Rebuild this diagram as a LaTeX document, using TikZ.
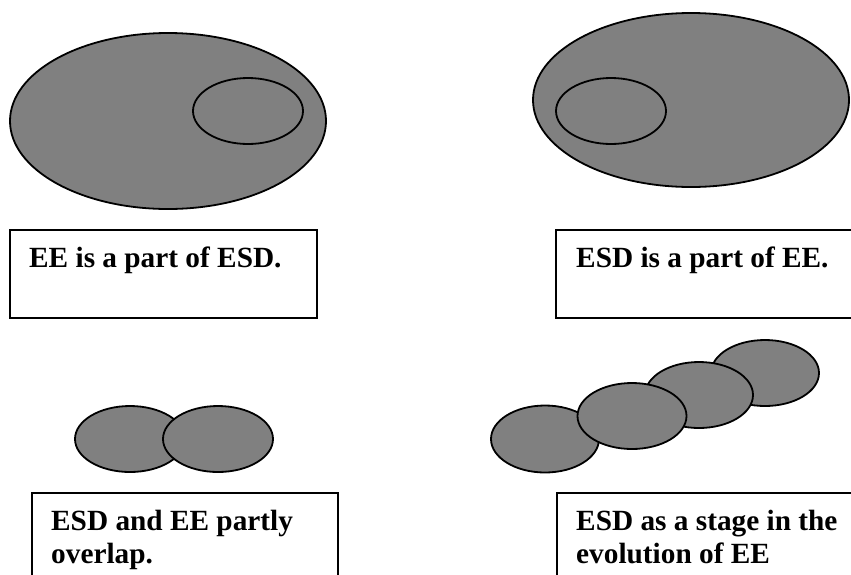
\documentclass[tikz,border=0pt]{standalone}
\usepackage{fontspec}
\setmainfont{Liberation Serif}
\usetikzlibrary{shapes.geometric}
\begin{document}
\begin{tikzpicture}[x=1pt,y=-1pt,
  blob/.style={ellipse,draw=black,fill={rgb,255:red,128;green,128;blue,128},line width=1.8pt,inner sep=0pt},
  ring/.style={ellipse,draw=black,line width=1.8pt,inner sep=0pt},
  capbox/.style={draw=black,line width=1.5pt},
  captext/.style={anchor=base west,inner sep=0pt,align=left,font=\fontsize{29.3}{33}\selectfont\bfseries}]
\useasboundingbox (0,0) rectangle (851,574);
\clip (0,0) rectangle (851,574);
% top left
\node[blob,minimum width=316pt,minimum height=176pt] (big1) at (168,121) {};
\node[ring,minimum width=110pt,minimum height=66pt] (in1) at (248,111) {};
\draw[capbox] (10,230) rectangle (317,318);
\node[captext] (t1) at (29,267) {EE is a part of ESD.};
% top right
\node[blob,minimum width=316pt,minimum height=174pt] (big2) at (691,100) {};
\node[ring,minimum width=110pt,minimum height=66pt] (in2) at (611,111) {};
\draw[capbox] (556,230) rectangle (880,318);
\node[captext] (t2) at (576,267) {ESD is a part of EE.};
% bottom left
\node[blob,minimum width=110pt,minimum height=66pt] (o1) at (130,439) {};
\node[blob,minimum width=110pt,minimum height=66pt] (o2) at (218,439) {};
\draw[capbox] (32,493) rectangle (338,600);
\node[captext] (t3) at (51,563) {ESD and EE partly\\overlap.};
% bottom right
\node[blob,minimum width=108pt,minimum height=67pt] (s1) at (545,439) {};
\node[blob,minimum width=108pt,minimum height=66pt] (s4) at (765,373) {};
\node[blob,minimum width=108pt,minimum height=66pt] (s3) at (699,395) {};
\node[blob,minimum width=109pt,minimum height=66pt] (s2) at (632,416) {};
\draw[capbox] (557,493) rectangle (880,600);
\node[captext] (t4) at (576,563) {ESD as a stage in the\\evolution of EE};
\end{tikzpicture}
\end{document}
